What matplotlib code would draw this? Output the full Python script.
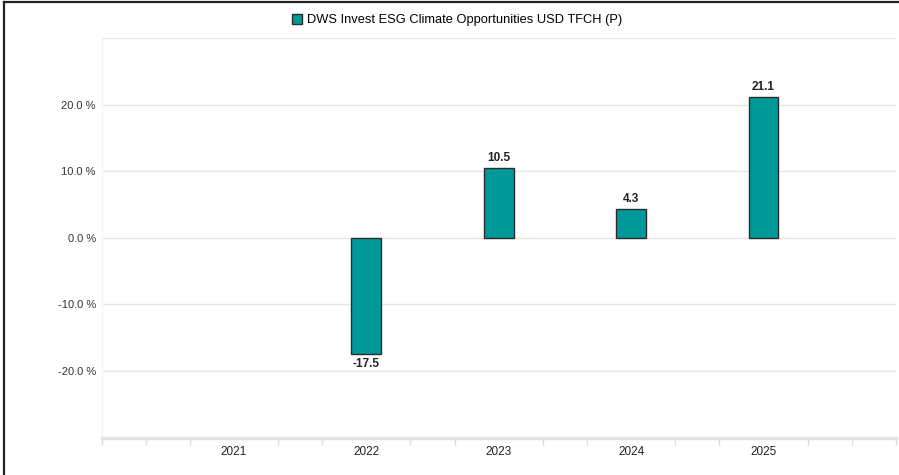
import matplotlib
matplotlib.use("Agg")
from matplotlib import pyplot as plt
from matplotlib.lines import Line2D
from matplotlib.patches import Patch

plt.rcParams['font.family'] = ['Liberation Sans', 'DejaVu Sans']

years = [2021, 2022, 2023, 2024, 2025]
returns = [None, -17.5, 10.5, 4.3, 21.1]
series_name = "DWS Invest ESG Climate Opportunities USD TFCH (P)"
ytick_vals = [-20, -10, 0, 10, 20]

bar_color = '#009999'
edge_color = '#2b2b2b'
W, H = 899, 475

fig = plt.figure(figsize=(W / 100, H / 100), dpi=100)
ax = fig.add_axes([101.5 / W, 1 - 437.5 / H, (896 - 101.5) / W, (437.5 - 38) / H])

xs = [y for y, v in zip(years, returns) if v is not None]
vals = [v for v in returns if v is not None]
ax.bar(xs, vals, width=0.225, color=bar_color, edgecolor=edge_color, linewidth=1.0, zorder=3)

for x, v in zip(xs, vals):
    if v >= 0:
        ax.annotate(f"{v:.1f}", (x, v), xytext=(0, 3), textcoords='offset points',
                    ha='center', va='bottom', fontsize=8.5, fontweight='bold', color='#222222')
    else:
        ax.annotate(f"{v:.1f}", (x, v), xytext=(0, -3), textcoords='offset points',
                    ha='center', va='top', fontsize=8.5, fontweight='bold', color='#222222')

ax.set_xlim(2020, 2026)
ax.set_ylim(-30, 30)

ax.set_yticks(ytick_vals)
ax.set_yticklabels([f"{v:.1f} %" for v in ytick_vals])
for v in ytick_vals + [30]:
    ax.axhline(v, color='#e6e6e6', linewidth=1.0, zorder=1)

ax.set_xticks(years)
ax.set_xticklabels([str(y) for y in years])
ax.set_xticks([2020 + i / 3 for i in range(19)], minor=True)
ax.tick_params(axis='x', which='major', length=0, pad=6, labelsize=8.5, colors='#222222')
ax.tick_params(axis='x', which='minor', length=5, width=1, color='#dddddd')
ax.tick_params(axis='y', length=0, pad=4, labelsize=8, colors='#333333')

for s in ['top', 'right']:
    ax.spines[s].set_visible(False)
ax.spines['left'].set_color('#f3f3f3')
ax.spines['bottom'].set_color('#e3e3e3')
ax.spines['bottom'].set_linewidth(2.5)

fig.legend(handles=[Patch(facecolor=bar_color, edgecolor=edge_color, linewidth=1.0)],
           labels=[series_name], loc='center', bbox_to_anchor=(457 / W, 1 - 20 / H),
           frameon=False, fontsize=9.3, handlelength=0.8, handleheight=0.8, handletextpad=0.4)

# outer frame (left and top edges)
fig.lines.append(Line2D([4 / W, 4 / W], [0, 1 - 1.5 / H], transform=fig.transFigure, color='#222222', linewidth=1.6))
fig.lines.append(Line2D([4 / W, 1], [1 - 1.5 / H, 1 - 1.5 / H], transform=fig.transFigure, color='#222222', linewidth=1.6))

plt.savefig('out.png', dpi=100)
